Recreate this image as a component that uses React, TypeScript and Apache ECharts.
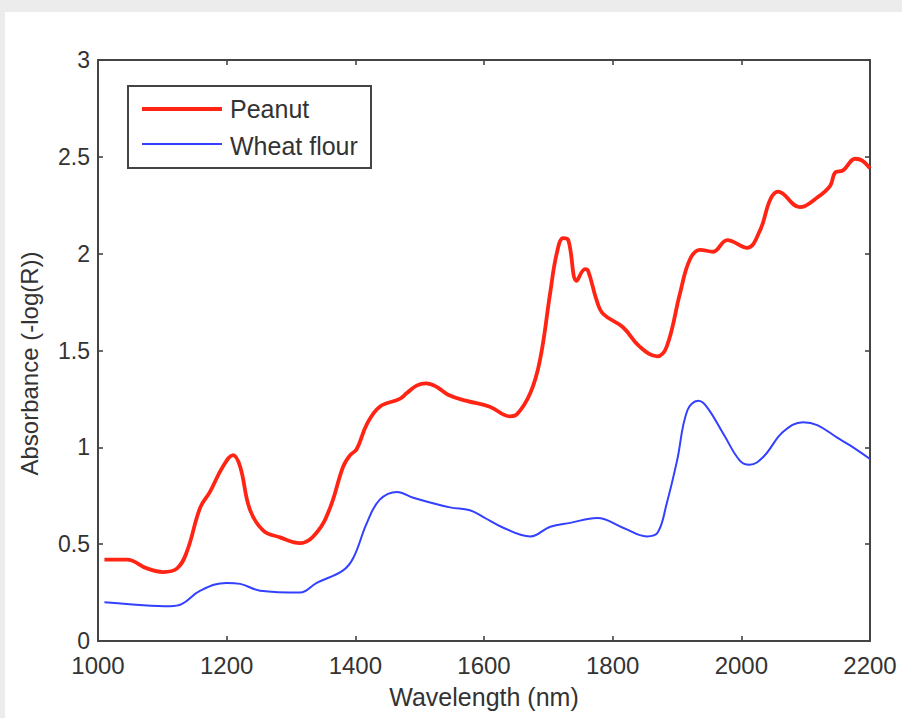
import React, { useEffect, useRef } from "react";
import * as echarts from "echarts";

const peanutX = [1010, 1045, 1076, 1101, 1123, 1138, 1159, 1174, 1194, 1210, 1221, 1236, 1257, 1283, 1314, 1340, 1361, 1381, 1392, 1402, 1418, 1438, 1469, 1480, 1496, 1510, 1525, 1545, 1573, 1609, 1640, 1651, 1672, 1687, 1703, 1713, 1723, 1731, 1744, 1757, 1762, 1775, 1785, 1816, 1842, 1869, 1884, 1905, 1920, 1936, 1956, 1978, 2009, 2029, 2045, 2057, 2091, 2118, 2138, 2146, 2158, 2177, 2188, 2200];
const peanutY = [0.42, 0.42, 0.375, 0.356, 0.375, 0.46, 0.69, 0.77, 0.9, 0.96, 0.9, 0.68, 0.57, 0.535, 0.505, 0.56, 0.69, 0.9, 0.96, 0.99, 1.12, 1.21, 1.25, 1.28, 1.32, 1.33, 1.315, 1.27, 1.24, 1.21, 1.16, 1.17, 1.28, 1.45, 1.8, 2.0, 2.08, 2.07, 1.86, 1.92, 1.91, 1.76, 1.69, 1.62, 1.52, 1.47, 1.52, 1.8, 1.97, 2.02, 2.01, 2.07, 2.03, 2.12, 2.28, 2.32, 2.24, 2.29, 2.35, 2.42, 2.43, 2.49, 2.48, 2.44];

const wheatX = [1010, 1065, 1112, 1130, 1159, 1200, 1221, 1252, 1314, 1340, 1381, 1397, 1418, 1438, 1465, 1490, 1547, 1578, 1599, 1630, 1672, 1703, 1734, 1776, 1816, 1853, 1870, 1884, 1900, 1916, 1933, 1946, 1972, 1998, 2013, 2034, 2065, 2096, 2118, 2149, 2169, 2200];
const wheatY = [0.2, 0.186, 0.18, 0.19, 0.26, 0.3, 0.295, 0.26, 0.25, 0.3, 0.365, 0.43, 0.61, 0.73, 0.77, 0.74, 0.69, 0.675, 0.64, 0.585, 0.54, 0.59, 0.61, 0.635, 0.585, 0.54, 0.56, 0.71, 0.93, 1.19, 1.24, 1.21, 1.07, 0.93, 0.91, 0.95, 1.08, 1.13, 1.115, 1.05, 1.01, 0.94];

const seriesNames = ["Peanut", "Wheat flour"];
const xTicks = [1000, 1200, 1400, 1600, 1800, 2000, 2200];
const yTicks = [0, 0.5, 1, 1.5, 2, 2.5, 3];

const RED = "#ff2414";
const BLUE = "#3340ff";
const AX = "#444";
const TXT = "#333";
const FONT = "Liberation Sans, Arial, sans-serif";

export default function App() {
  const ref = useRef<HTMLDivElement>(null);
  useEffect(() => {
    if (!ref.current) return;
    const chart = echarts.init(ref.current, undefined, { renderer: "svg" });
    const axisCommon = {
      type: "value" as const,
      axisLine: { show: true, onZero: false, lineStyle: { color: AX, width: 2 } },
      axisTick: { show: true, inside: true, length: 5, lineStyle: { color: AX, width: 1.6 } },
      splitLine: { show: false },
    };
    chart.setOption({
      animation: false,
      backgroundColor: "transparent",
      grid: { left: 98, right: 32, top: 60, bottom: 77 },
      xAxis: [
        {
          ...axisCommon,
          position: "bottom",
          min: xTicks[0],
          max: xTicks[xTicks.length - 1],
          interval: 200,
          name: "Wavelength (nm)",
          nameLocation: "middle",
          nameGap: 43,
          nameTextStyle: { color: TXT, fontSize: 25, fontFamily: FONT },
          axisLabel: { color: TXT, fontSize: 24, fontFamily: FONT, margin: 12, formatter: (v: number) => String(v) },
        },
        {
          ...axisCommon,
          position: "top",
          min: xTicks[0],
          max: xTicks[xTicks.length - 1],
          interval: 200,
          axisLabel: { show: false },
        },
      ],
      yAxis: [
        {
          ...axisCommon,
          position: "left",
          min: yTicks[0],
          max: yTicks[yTicks.length - 1],
          interval: 0.5,
          name: "Absorbance (-log(R))",
          nameLocation: "middle",
          nameGap: 57,
          nameTextStyle: { color: TXT, fontSize: 24, fontFamily: FONT, padding: [0, 26, 0, 0] },
          axisLabel: { color: TXT, fontSize: 23, fontFamily: FONT, margin: 8, formatter: (v: number) => String(v) },
        },
        {
          ...axisCommon,
          position: "right",
          min: yTicks[0],
          max: yTicks[yTicks.length - 1],
          interval: 0.5,
          axisLabel: { show: false },
        },
      ],
      series: [
        {
          name: seriesNames[0],
          type: "line",
          data: peanutX.map((x, i) => [x, peanutY[i]]),
          smooth: 0.4,
          showSymbol: false,
          lineStyle: { color: RED, width: 3.8 },
          z: 3,
        },
        {
          name: seriesNames[1],
          type: "line",
          data: wheatX.map((x, i) => [x, wheatY[i]]),
          smooth: 0.4,
          showSymbol: false,
          lineStyle: { color: BLUE, width: 2 },
          z: 2,
        },
      ],
      graphic: [
        {
          type: "rect",
          shape: { x: 128, y: 86, width: 243, height: 82 },
          style: { fill: "#fff", stroke: AX, lineWidth: 2 },
          z: 10,
        },
        {
          type: "line",
          shape: { x1: 142, y1: 109, x2: 222, y2: 109 },
          style: { stroke: RED, lineWidth: 3.8 },
          z: 11,
        },
        {
          type: "text",
          x: 230,
          y: 109,
          style: { text: seriesNames[0], fill: TXT, fontSize: 25, fontFamily: FONT, verticalAlign: "middle" },
          z: 11,
        },
        {
          type: "line",
          shape: { x1: 142, y1: 144, x2: 222, y2: 144 },
          style: { stroke: BLUE, lineWidth: 2 },
          z: 11,
        },
        {
          type: "text",
          x: 230,
          y: 146,
          style: { text: seriesNames[1], fill: TXT, fontSize: 25, fontFamily: FONT, verticalAlign: "middle" },
          z: 11,
        },
      ],
    });
    return () => chart.dispose();
  }, []);
  return (
    <div style={{ position: "fixed", left: 0, top: 0, width: 902, height: 718, background: "#ececec" }}>
      <div style={{ position: "absolute", left: 5, top: 12, width: 897, height: 706, background: "#fff" }} />
      <div ref={ref} style={{ position: "absolute", left: 0, top: 0, width: 902, height: 718 }} />
    </div>
  );
}
